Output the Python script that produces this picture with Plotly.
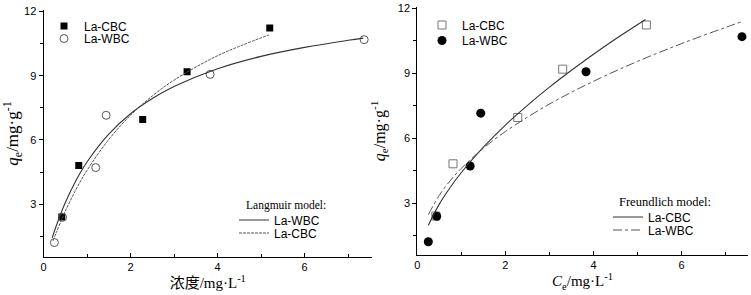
import plotly.graph_objects as go

# ---- measured data ----
cbc_x = [0.42, 0.81, 2.28, 3.30, 5.20]
cbc_y = [2.40, 4.81, 6.95, 9.18, 11.22]
wbc_x = [0.25, 0.44, 1.20, 1.44, 3.83, 7.37]
wbc_y = [1.21, 2.39, 4.71, 7.15, 9.06, 10.68]

# ---- fitted curves (left: Langmuir) ----
lang_wbc_x = [0.20, 0.30, 0.50, 0.75, 1.0, 1.5, 2.0, 2.5, 3.0, 4.0, 5.0, 6.0, 7.0, 7.35]
lang_wbc_y = [1.43, 2.03, 3.07, 4.12, 4.97, 6.27, 7.22, 7.93, 8.49, 9.32, 9.90, 10.32, 10.65, 10.75]
lang_cbc_x = [0.22, 0.30, 0.50, 0.75, 1.0, 1.5, 2.0, 2.5, 3.0, 4.0, 5.18]
lang_cbc_y = [1.29, 1.71, 2.67, 3.70, 4.58, 6.02, 7.15, 8.05, 8.79, 9.93, 10.90]

# ---- fitted curves (right: Freundlich) ----
fr_cbc_x = [0.25, 0.50, 0.75, 1.0, 1.5, 2.0, 2.5, 3.0, 3.5, 4.0, 4.5, 5.18]
fr_cbc_y = [1.97, 2.95, 3.73, 4.41, 5.58, 6.60, 7.51, 8.35, 9.13, 9.87, 10.57, 11.47]
fr_wbc_x = [0.25, 0.50, 0.75, 1.0, 1.5, 2.0, 3.0, 4.0, 5.0, 6.0, 7.0, 7.35]
fr_wbc_y = [2.46, 3.36, 4.04, 4.60, 5.53, 6.30, 7.57, 8.62, 9.54, 10.36, 11.11, 11.36]

x_ticks = [0, 2, 4, 6]
y_ticks = [3, 6, 9, 12]

SANS = "Liberation Sans, Arial, sans-serif"
SERIF = "Liberation Serif, Times New Roman, serif"

W, H = 751, 295

def px_x(p):
    return p / W

def px_y(p):
    return 1 - p / H

fig = go.Figure()

# Left panel
fig.add_trace(go.Scatter(x=cbc_x, y=cbc_y, mode="markers", name="La-CBC",
                         marker=dict(symbol="square", size=7, color="black"),
                         xaxis="x", yaxis="y", legend="legend"))
fig.add_trace(go.Scatter(x=wbc_x, y=wbc_y, mode="markers", name="La-WBC",
                         marker=dict(symbol="circle-open", size=8, color="#555555", line=dict(width=1)),
                         xaxis="x", yaxis="y", legend="legend2"))
fig.add_trace(go.Scatter(x=lang_wbc_x, y=lang_wbc_y, mode="lines", name="La-WBC",
                         line=dict(color="#333333", width=1.1, shape="spline"),
                         xaxis="x", yaxis="y", legend="legend3"))
fig.add_trace(go.Scatter(x=lang_cbc_x, y=lang_cbc_y, mode="lines", name="La-CBC",
                         line=dict(color="#555555", width=1, dash="3px,1px", shape="spline"),
                         xaxis="x", yaxis="y", legend="legend4"))

# Right panel
fig.add_trace(go.Scatter(x=cbc_x, y=cbc_y, mode="markers", name="La-CBC",
                         marker=dict(symbol="square-open", size=8, color="#777777", line=dict(width=1)),
                         xaxis="x2", yaxis="y2", legend="legend5"))
fig.add_trace(go.Scatter(x=wbc_x, y=wbc_y, mode="markers", name="La-WBC",
                         marker=dict(symbol="circle", size=9, color="black"),
                         xaxis="x2", yaxis="y2", legend="legend6"))
fig.add_trace(go.Scatter(x=fr_cbc_x, y=fr_cbc_y, mode="lines", name="La-CBC",
                         line=dict(color="#333333", width=1.1, shape="spline"),
                         xaxis="x2", yaxis="y2", legend="legend7"))
fig.add_trace(go.Scatter(x=fr_wbc_x, y=fr_wbc_y, mode="lines", name="La-WBC",
                         line=dict(color="#555555", width=1, dash="dashdot", shape="spline"),
                         xaxis="x2", yaxis="y2", legend="legend8"))

axis_common = dict(showgrid=False, zeroline=False, showline=True, linecolor="black",
                   linewidth=1, tickfont=dict(family=SANS, size=11, color="black"),
                   ticklen=4, tickcolor="black", automargin=False)

xcommon = dict(axis_common, tickmode="array", tickvals=x_ticks, ticks="inside",
               minor=dict(ticks="inside", dtick=1, ticklen=3, tickcolor="black"))
ycommon = dict(axis_common, tickmode="array", tickvals=y_ticks, ticks="outside",
               minor=dict(ticks="outside", tickvals=[1.5, 4.5, 7.5, 10.5], ticklen=3, tickcolor="black"))

def one_legend(xp, yp):
    return dict(x=px_x(xp), y=px_y(yp), xanchor="left", yanchor="middle",
                bgcolor="rgba(0,0,0,0)", font=dict(family=SANS, size=12, color="black"),
                itemwidth=30)

fig.update_layout(
    width=W, height=H,
    margin=dict(l=0, r=0, t=0, b=0, autoexpand=False),
    paper_bgcolor="white", plot_bgcolor="white",
    showlegend=True,
    xaxis=dict(xcommon, domain=[px_x(43.5), px_x(372)], range=[0, 7.55], anchor="y",
               title=dict(text="浓度/mg·L<sup>-1</sup>",
                          font=dict(family=SERIF + ", Noto Sans CJK SC", size=15, color="black"),
                          standoff=2)),
    yaxis=dict(ycommon, domain=[px_y(256.7), px_y(10.3)], range=[0.55, 12.05], anchor="x",
               title=dict(text="<i>q</i><sub>e</sub>/mg·g<sup>-1</sup>",
                          font=dict(family=SERIF, size=17, color="black"), standoff=8)),
    xaxis2=dict(xcommon, domain=[px_x(417.3), px_x(747.7)], range=[0, 7.5], anchor="y2",
                title=dict(text="<i>C</i><sub>e</sub>/mg·L<sup>-1</sup>",
                           font=dict(family=SERIF, size=15, color="black"), standoff=2)),
    yaxis2=dict(ycommon, domain=[px_y(255), px_y(7)], range=[0.6, 12.05], anchor="x2",
                title=dict(text="<i>q</i><sub>e</sub>/mg·g<sup>-1</sup>",
                           font=dict(family=SERIF, size=16, color="black"), standoff=8)),
    legend=one_legend(44, 26),
    legend2=one_legend(44, 38.5),
    legend3=one_legend(234, 220),
    legend4=one_legend(234, 233),
    legend5=one_legend(422, 25),
    legend6=one_legend(422, 40.5),
    legend7=one_legend(608, 217),
    legend8=one_legend(608, 230),
    annotations=[
        dict(text="Langmuir model:", x=px_x(244), y=px_y(205), xref="paper", yref="paper",
             xanchor="left", yanchor="middle", showarrow=False,
             font=dict(family=SERIF, size=11.5, color="black")),
        dict(text="Freundlich model:", x=px_x(617), y=px_y(202), xref="paper", yref="paper",
             xanchor="left", yanchor="middle", showarrow=False,
             font=dict(family=SERIF, size=12.5, color="black")),
    ],
)

fig.write_html("out.html", config={"displayModeBar": False},
               post_script="document.body.style.margin='0';document.body.style.overflow='hidden';")
